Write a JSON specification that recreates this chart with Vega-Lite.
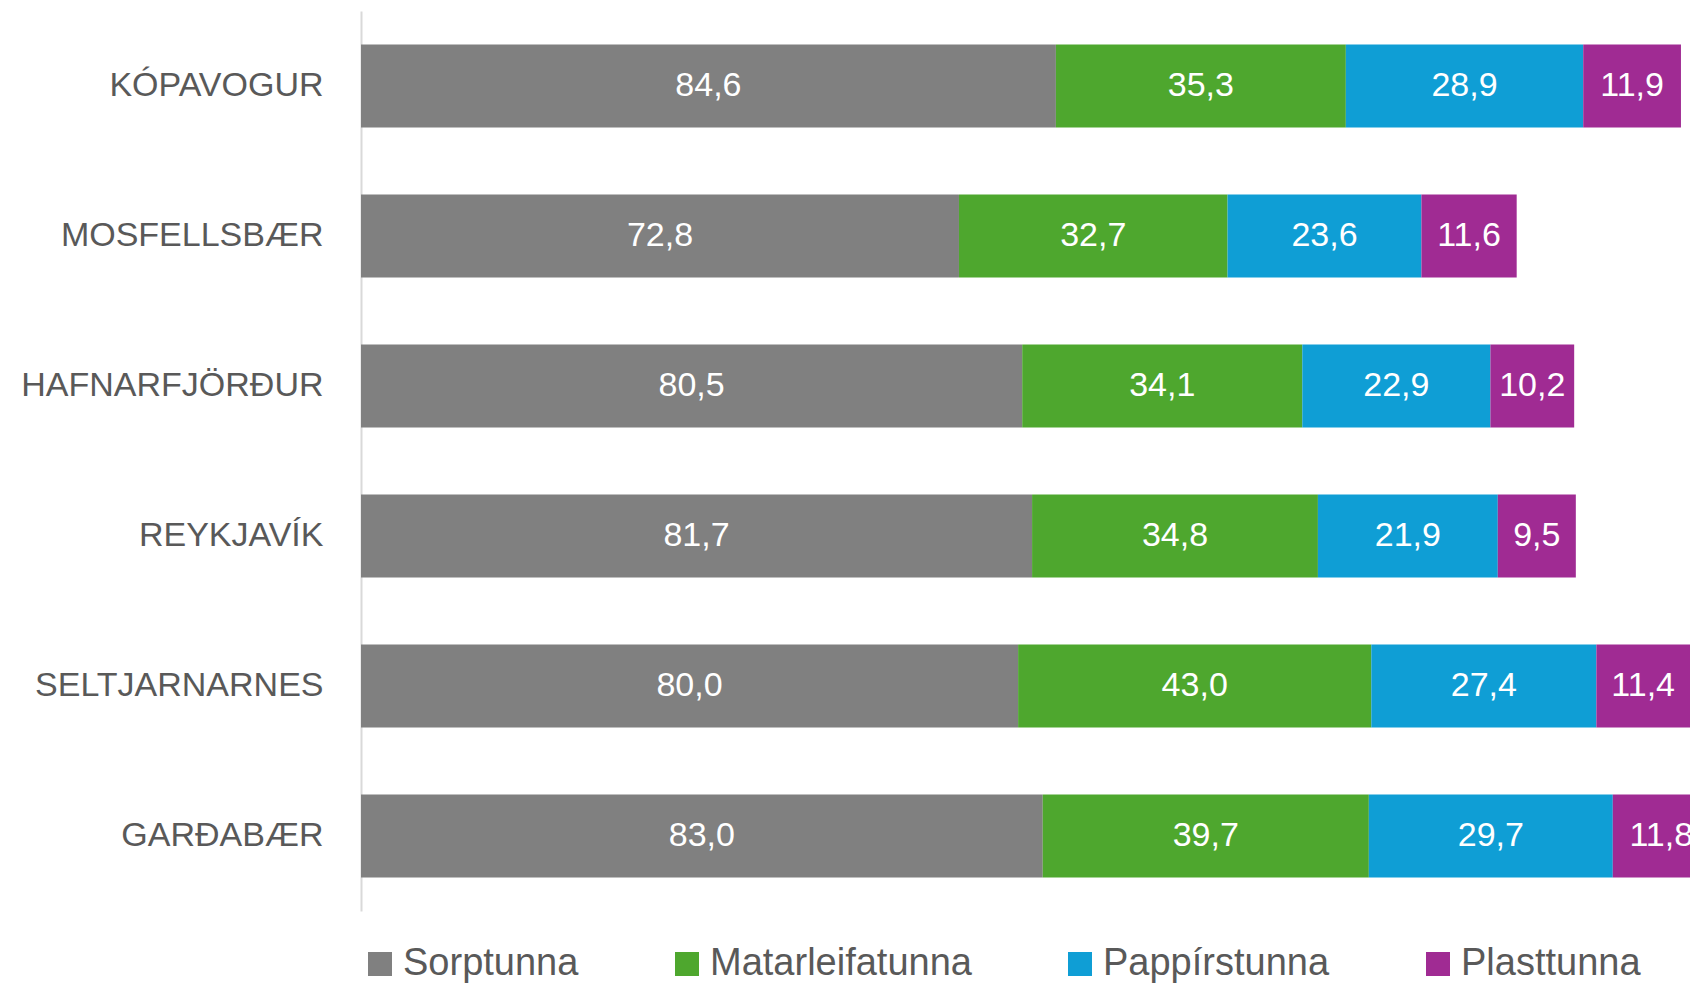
{
  "$schema": "https://vega.github.io/schema/vega-lite/v6.json",
  "width": 1329,
  "height": 900,
  "autosize": {"type": "none"},
  "padding": {"left": 361, "top": 11, "right": 0, "bottom": 72},
  "config": {
    "view": {"stroke": null},
    "font": "Liberation Sans",
    "locale": {"number": {"decimal": ",", "thousands": ".", "grouping": [3], "currency": ["", " kr."]}}
  },
  "data": {
    "values": [
      {"city": "KÓPAVOGUR", "cat": "Sorptunna", "i": 1, "v": 84.6},
      {"city": "KÓPAVOGUR", "cat": "Matarleifatunna", "i": 2, "v": 35.3},
      {"city": "KÓPAVOGUR", "cat": "Pappírstunna", "i": 3, "v": 28.9},
      {"city": "KÓPAVOGUR", "cat": "Plasttunna", "i": 4, "v": 11.9},
      {"city": "MOSFELLSBÆR", "cat": "Sorptunna", "i": 1, "v": 72.8},
      {"city": "MOSFELLSBÆR", "cat": "Matarleifatunna", "i": 2, "v": 32.7},
      {"city": "MOSFELLSBÆR", "cat": "Pappírstunna", "i": 3, "v": 23.6},
      {"city": "MOSFELLSBÆR", "cat": "Plasttunna", "i": 4, "v": 11.6},
      {"city": "HAFNARFJÖRÐUR", "cat": "Sorptunna", "i": 1, "v": 80.5},
      {"city": "HAFNARFJÖRÐUR", "cat": "Matarleifatunna", "i": 2, "v": 34.1},
      {"city": "HAFNARFJÖRÐUR", "cat": "Pappírstunna", "i": 3, "v": 22.9},
      {"city": "HAFNARFJÖRÐUR", "cat": "Plasttunna", "i": 4, "v": 10.2},
      {"city": "REYKJAVÍK", "cat": "Sorptunna", "i": 1, "v": 81.7},
      {"city": "REYKJAVÍK", "cat": "Matarleifatunna", "i": 2, "v": 34.8},
      {"city": "REYKJAVÍK", "cat": "Pappírstunna", "i": 3, "v": 21.9},
      {"city": "REYKJAVÍK", "cat": "Plasttunna", "i": 4, "v": 9.5},
      {"city": "SELTJARNARNES", "cat": "Sorptunna", "i": 1, "v": 80.0},
      {"city": "SELTJARNARNES", "cat": "Matarleifatunna", "i": 2, "v": 43.0},
      {"city": "SELTJARNARNES", "cat": "Pappírstunna", "i": 3, "v": 27.4},
      {"city": "SELTJARNARNES", "cat": "Plasttunna", "i": 4, "v": 11.4},
      {"city": "GARÐABÆR", "cat": "Sorptunna", "i": 1, "v": 83.0},
      {"city": "GARÐABÆR", "cat": "Matarleifatunna", "i": 2, "v": 39.7},
      {"city": "GARÐABÆR", "cat": "Pappírstunna", "i": 3, "v": 29.7},
      {"city": "GARÐABÆR", "cat": "Plasttunna", "i": 4, "v": 11.8}
    ]
  },
  "transform": [
    {"stack": "v", "groupby": ["city"], "sort": [{"field": "i", "order": "ascending"}], "as": ["x0", "x1"]}
  ],
  "encoding": {
    "y": {
      "field": "city",
      "type": "nominal",
      "sort": ["KÓPAVOGUR", "MOSFELLSBÆR", "HAFNARFJÖRÐUR", "REYKJAVÍK", "SELTJARNARNES", "GARÐABÆR"],
      "scale": {"paddingInner": 0.447, "paddingOuter": 0.2235},
      "axis": {
        "title": null,
        "ticks": false,
        "grid": false,
        "domain": true,
        "domainColor": "#d9d9d9",
        "domainWidth": 2,
        "labelFontSize": 34,
        "labelColor": "#595959",
        "labelFont": "Liberation Sans",
        "labelPadding": 38,
        "labelLimit": 400
      }
    }
  },
  "layer": [
    {
      "mark": {"type": "bar", "clip": true},
      "encoding": {
        "x": {"field": "x0", "type": "quantitative", "scale": {"domain": [0, 161.8], "nice": false, "zero": true}, "axis": null},
        "x2": {"field": "x1"},
        "color": {
          "field": "cat",
          "type": "nominal",
          "scale": {
            "domain": ["Sorptunna", "Matarleifatunna", "Pappírstunna", "Plasttunna"],
            "range": ["#808080", "#4ea72e", "#0f9ed5", "#a02b93"]
          },
          "legend": {
            "title": null,
            "orient": "none",
            "legendX": 0,
            "legendY": 934,
            "direction": "horizontal",
            "symbolType": "square",
            "symbolSize": 576,
            "symbolStrokeWidth": 0,
            "symbolOpacity": 1,
            "labelFontSize": 38,
            "labelColor": "#595959",
            "labelFont": "Liberation Sans",
            "labelOffset": 4,
            "columnPadding": 89,
            "labelLimit": 500
          }
        }
      }
    },
    {
      "transform": [{"fold": ["x0", "x1"], "as": ["k", "pos"]}],
      "mark": {"type": "text", "clip": true, "color": "white", "fontSize": 34, "font": "Liberation Sans", "baseline": "middle", "align": "center"},
      "encoding": {
        "x": {"field": "pos", "aggregate": "mean", "type": "quantitative", "stack": null},
        "detail": {"field": "cat", "type": "nominal"},
        "text": {"field": "v", "aggregate": "mean", "type": "quantitative", "format": ".1f"}
      }
    }
  ]
}
